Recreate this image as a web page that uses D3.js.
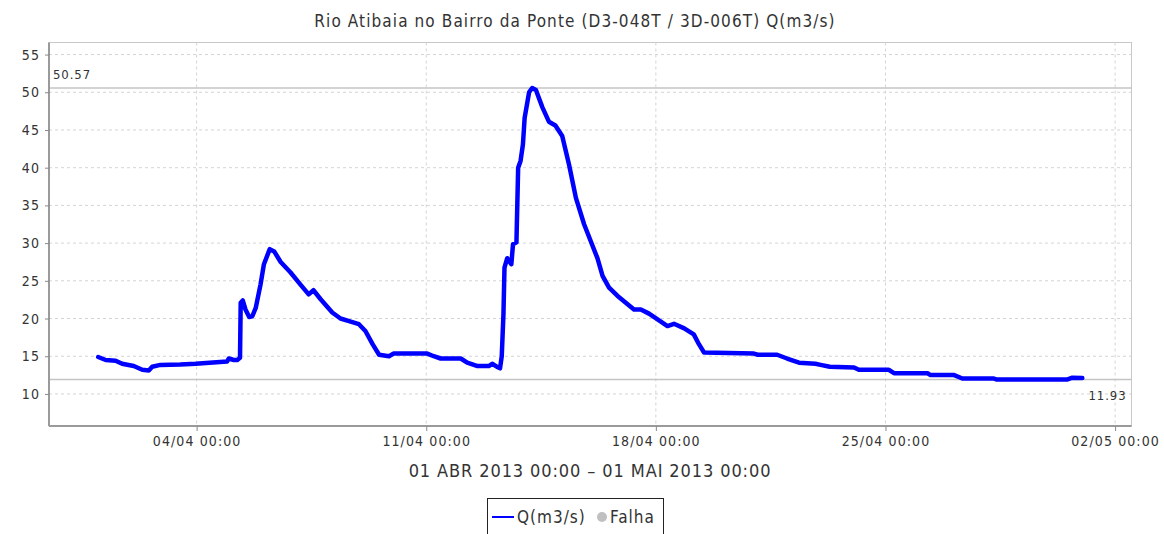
<!DOCTYPE html>
<html>
<head>
<meta charset="utf-8">
<script src="https://cdn.jsdelivr.net/npm/d3@7"></script>
<style>
  body { margin: 0; background: #fff; }
  text { font-family: "DejaVu Sans Condensed", "DejaVu Sans", sans-serif; fill: #333; }
</style>
</head>
<body>
<svg id="chart" width="1164" height="534"></svg>
<script>
// Vazão (m3/s), abril de 2013
var times = [
  "2013-04-01 00:00", "2013-04-01 05:30", "2013-04-01 12:45", "2013-04-01 17:30",
  "2013-04-02 02:00", "2013-04-02 08:15", "2013-04-02 13:00", "2013-04-02 15:30",
  "2013-04-02 21:30", "2013-04-03 12:00", "2013-04-03 23:15", "2013-04-04 22:15",
  "2013-04-04 23:30", "2013-04-05 03:15", "2013-04-05 05:45", "2013-04-05 07:45",
  "2013-04-05 08:15", "2013-04-05 09:45", "2013-04-05 11:45", "2013-04-05 14:30",
  "2013-04-05 16:45", "2013-04-05 19:15", "2013-04-05 22:45", "2013-04-06 01:15",
  "2013-04-06 05:30", "2013-04-06 08:45", "2013-04-06 13:30", "2013-04-06 20:45",
  "2013-04-07 04:00", "2013-04-07 10:00", "2013-04-07 13:30", "2013-04-07 18:45",
  "2013-04-08 03:15", "2013-04-08 09:15", "2013-04-08 16:45", "2013-04-08 22:45",
  "2013-04-09 03:30", "2013-04-09 08:45", "2013-04-09 13:30", "2013-04-09 20:45",
  "2013-04-10 00:00", "2013-04-11 00:45", "2013-04-11 05:30", "2013-04-11 10:30",
  "2013-04-12 01:15", "2013-04-12 06:00", "2013-04-12 13:30", "2013-04-12 21:45",
  "2013-04-13 00:15", "2013-04-13 04:45", "2013-04-13 06:00", "2013-04-13 07:15",
  "2013-04-13 08:30", "2013-04-13 09:15", "2013-04-13 11:15", "2013-04-13 14:15",
  "2013-04-13 15:30", "2013-04-13 18:00", "2013-04-13 19:15", "2013-04-13 21:00",
  "2013-04-13 22:45", "2013-04-14 00:00", "2013-04-14 03:15", "2013-04-14 05:30",
  "2013-04-14 08:15", "2013-04-14 13:00", "2013-04-14 17:45", "2013-04-14 22:30",
  "2013-04-15 03:30", "2013-04-15 08:30", "2013-04-15 13:30", "2013-04-15 19:30",
  "2013-04-16 05:15", "2013-04-16 09:00", "2013-04-16 13:45", "2013-04-16 20:00",
  "2013-04-17 02:00", "2013-04-17 08:00", "2013-04-17 13:00", "2013-04-17 19:00",
  "2013-04-18 01:15", "2013-04-18 08:30", "2013-04-18 13:15", "2013-04-18 20:45",
  "2013-04-19 03:45", "2013-04-19 07:30", "2013-04-19 11:15", "2013-04-20 23:45",
  "2013-04-21 02:30", "2013-04-21 16:45", "2013-04-22 00:00", "2013-04-22 08:45",
  "2013-04-22 20:45", "2013-04-23 00:30", "2013-04-23 07:15", "2013-04-24 01:00",
  "2013-04-24 04:30", "2013-04-25 02:30", "2013-04-25 06:15", "2013-04-26 06:45",
  "2013-04-26 09:00", "2013-04-27 02:15", "2013-04-27 08:15", "2013-04-28 07:15",
  "2013-04-28 09:00", "2013-04-30 13:15", "2013-04-30 16:45", "2013-05-01 00:00"
];
var flow = [
  14.9, 14.5, 14.4, 14.0,
  13.7, 13.2, 13.1, 13.6,
  13.85, 13.9, 14.0, 14.3,
  14.7, 14.5, 14.5, 14.8,
  22.1, 22.4, 21.2, 20.2,
  20.3, 21.4, 24.5, 27.2,
  29.2, 28.9, 27.5, 26.1,
  24.5, 23.2, 23.75, 22.56,
  20.8, 20.0, 19.6, 19.25,
  18.35, 16.6, 15.2, 15.0,
  15.35, 15.35, 15.0, 14.7,
  14.7, 14.15, 13.7, 13.7,
  14.0, 13.5, 13.4, 15.0,
  20.6, 26.75, 28.0, 27.2,
  29.85, 30.1, 40.0, 40.9,
  43.1, 46.6, 50.0, 50.57,
  50.3, 48.0, 46.1, 45.6,
  44.2, 40.4, 36.0, 32.5,
  28.0, 25.65, 24.1, 23.0,
  22.1, 21.2, 21.2, 20.65,
  19.9, 19.0, 19.3, 18.7,
  17.9, 16.6, 15.5, 15.35,
  15.2, 15.2, 14.7, 14.15,
  14.0, 13.85, 13.6, 13.5,
  13.2, 13.2, 12.75, 12.75,
  12.5, 12.5, 12.05, 12.05,
  11.93, 11.93, 12.16, 12.1
];
var yTicks = [10, 15, 20, 25, 30, 35, 40, 45, 50, 55];
var xTicks = ["2013-04-04 00:00", "2013-04-11 00:00", "2013-04-18 00:00", "2013-04-25 00:00", "2013-05-02 00:00"];
var xDomain = ["2013-03-30 12:00", "2013-05-02 12:00"];
var yDomain = [5.75, 56.6];
var markers = [50.57, 11.93];
var title = "Rio Atibaia no Bairro da Ponte (D3-048T / 3D-006T) Q(m3/s)";
var period = "01 ABR 2013 00:00 \u2013 01 MAI 2013 00:00";
var legendItems = ["Q(m3/s)", "Falha"];

var parse = d3.timeParse("%Y-%m-%d %H:%M");
var data = times.map(function(t, i) { return { date: parse(t), value: flow[i] }; });

var plot = { left: 49, right: 1131.5, top: 42.5, bottom: 426 };
var svg = d3.select("#chart");

var x = d3.scaleTime().domain(xDomain.map(parse)).range([plot.left, plot.right]);
var y = d3.scaleLinear().domain(yDomain).range([plot.bottom, plot.top]);

// title
svg.append("text")
  .attr("x", 575).attr("y", 27)
  .attr("text-anchor", "middle")
  .style("font-size", "17px")
  .style("letter-spacing", "1.1px")
  .text(title);

// plot border
svg.append("rect")
  .attr("x", plot.left).attr("y", plot.top)
  .attr("width", plot.right - plot.left).attr("height", plot.bottom - plot.top)
  .attr("fill", "#fff").attr("stroke", "#c8c8c8").attr("stroke-width", 1);

// gridlines
svg.append("g").selectAll("line").data(yTicks).enter().append("line")
  .attr("x1", plot.left).attr("x2", plot.right)
  .attr("y1", function(d) { return y(d); }).attr("y2", function(d) { return y(d); })
  .attr("stroke", "#d4d4d4").attr("stroke-dasharray", "3,3");
svg.append("g").selectAll("line").data(xTicks).enter().append("line")
  .attr("x1", function(d) { return x(parse(d)); }).attr("x2", function(d) { return x(parse(d)); })
  .attr("y1", plot.top).attr("y2", plot.bottom)
  .attr("stroke", "#d4d4d4").attr("stroke-dasharray", "3,3");

// max / min markers
svg.append("g").selectAll("line").data(markers).enter().append("line")
  .attr("x1", plot.left).attr("x2", plot.right)
  .attr("y1", function(d) { return y(d); }).attr("y2", function(d) { return y(d); })
  .attr("stroke", "#c4c4c4").attr("stroke-width", 1.5);
svg.append("text")
  .attr("x", plot.left + 4).attr("y", y(markers[0]) - 9)
  .style("font-size", "13px").style("letter-spacing", "0.9px")
  .text(markers[0].toFixed(2));
svg.append("text")
  .attr("x", plot.right - 5).attr("y", y(markers[1]) + 21)
  .attr("text-anchor", "end")
  .style("font-size", "13px").style("letter-spacing", "0.9px")
  .text(markers[1].toFixed(2));

// series
svg.append("path")
  .datum(data)
  .attr("fill", "none")
  .attr("stroke", "#0000ff")
  .attr("stroke-width", 4.5)
  .attr("stroke-linejoin", "round")
  .attr("stroke-linecap", "round")
  .attr("d", d3.line()
    .x(function(d) { return x(d.date); })
    .y(function(d) { return y(d.value); }));

// axes
var yAxis = svg.append("g")
  .attr("transform", "translate(" + plot.left + ",0)")
  .call(d3.axisLeft(y).tickValues(yTicks).tickSize(4).tickPadding(5));
var xAxis = svg.append("g")
  .attr("transform", "translate(0," + plot.bottom + ")")
  .call(d3.axisBottom(x).tickValues(xTicks.map(parse)).tickSize(5).tickPadding(5)
    .tickFormat(d3.timeFormat("%d/%m %H:%M")));
[yAxis, xAxis].forEach(function(a) {
  a.select(".domain").attr("stroke", "#9a9a9a").attr("stroke-width", 2);
  a.selectAll(".tick line").attr("stroke", "#888");
  a.selectAll(".tick text")
    .attr("fill", "#333")
    .style("font-family", "\"DejaVu Sans Condensed\", \"DejaVu Sans\", sans-serif")
    .style("font-size", "14px")
    .style("letter-spacing", "1.1px");
});
// axis line without end caps
yAxis.select(".domain").attr("d", "M0," + plot.top + "V" + plot.bottom);
xAxis.select(".domain").attr("d", "M" + plot.left + ",0H" + plot.right);

// period label
svg.append("text")
  .attr("x", 590).attr("y", 477)
  .attr("text-anchor", "middle")
  .style("font-size", "18px")
  .style("letter-spacing", "0.9px")
  .text(period);

// legend
var lg = svg.append("g");
lg.append("rect")
  .attr("x", 487.5).attr("y", 498.5).attr("width", 176).attr("height", 44)
  .attr("fill", "#fff").attr("stroke", "#222").attr("stroke-width", 1);
lg.append("line")
  .attr("x1", 492).attr("x2", 514).attr("y1", 517).attr("y2", 517)
  .attr("stroke", "#0000ff").attr("stroke-width", 2);
lg.append("text")
  .attr("x", 517).attr("y", 523)
  .style("font-size", "17px").style("letter-spacing", "1px")
  .text(legendItems[0]);
lg.append("circle")
  .attr("cx", 602).attr("cy", 517).attr("r", 5)
  .attr("fill", "#c0c0c0");
lg.append("text")
  .attr("x", 610).attr("y", 523)
  .style("font-size", "17px").style("letter-spacing", "1px")
  .text(legendItems[1]);
</script>
</body>
</html>
